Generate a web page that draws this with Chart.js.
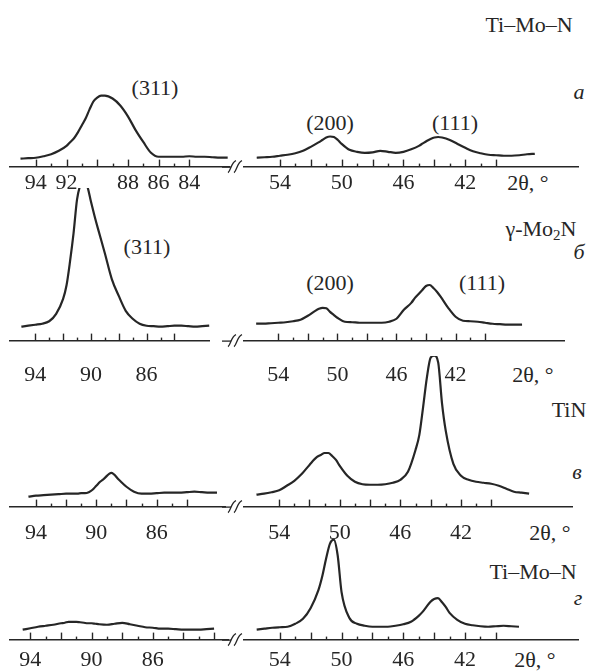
<!DOCTYPE html>
<html>
<head>
<meta charset="utf-8">
<script src="https://cdn.jsdelivr.net/npm/chart.js@4/dist/chart.umd.min.js"></script>
<style>
  html, body { margin: 0; padding: 0; background: #fff; }
  #fig { position: relative; width: 595px; height: 672px; overflow: hidden; background: #fff; }
  .t { position: absolute; transform: translate(-50%, -50%); white-space: nowrap;
       font-family: "Liberation Serif", "DejaVu Serif", serif; font-size: 22px; color: #262626; line-height: 1; }
  .i { font-style: italic; }
  sub { font-size: 15px; vertical-align: -4px; }
</style>
</head>
<body>
<div id="fig">
  <div class="t" style="left:529px; top:25px;">Ti–Mo–N</div>

  <div class="t" style="left:155px; top:88px;">(311)</div>
  <div class="t i" style="left:579px; top:92px;">а</div>
  <div class="t" style="left:330px; top:123px;">(200)</div>
  <div class="t" style="left:455px; top:123px;">(111)</div>
  <div class="t" style="left:528px; top:183px;">2θ, °</div>

  <div class="t" style="left:541px; top:230px;">γ-Mo<sub>2</sub>N</div>
  <div class="t i" style="left:579px; top:252px;">б</div>
  <div class="t" style="left:147px; top:247px;">(311)</div>
  <div class="t" style="left:330px; top:283px;">(200)</div>
  <div class="t" style="left:482px; top:283px;">(111)</div>
  <div class="t" style="left:533px; top:375px;">2θ, °</div>

  <div class="t" style="left:569px; top:410px;">TiN</div>
  <div class="t i" style="left:577px; top:472px;">в</div>
  <div class="t" style="left:550px; top:533px;">2θ, °</div>

  <div class="t" style="left:533px; top:572px;">Ti–Mo–N</div>
  <div class="t i" style="left:578px; top:598px;">г</div>
  <div class="t" style="left:535px; top:660px;">2θ, °</div>
</div>

<script>
// 2theta, degrees (left part of the broken axis and right part)
var leftAngles = [95, 94.5, 94, 93.5, 93, 92.5, 92, 91.75, 91.5, 91.25, 91, 90.75, 90.5, 90.25, 90,
  89.75, 89.5, 89, 88.5, 88, 87.5, 87, 86.5, 86, 85.5, 85, 84.5, 84, 83.5, 83, 82.5, 82, 81.5];
var rightAngles = [55.5, 55, 54.5, 54, 53.5, 53, 52.5, 52, 51.5, 51.25, 51, 50.75, 50.5, 50.25, 50,
  49.5, 49, 48.5, 48, 47.5, 47, 46.5, 46, 45.5, 45, 44.75, 44.5, 44.25, 44, 43.75, 43.5, 43.25, 43,
  42.5, 42, 41.5, 41, 40.5, 40, 39.5, 39, 38.5, 38, 37.5];

// intensities (arb. units)
// а  Ti-Mo-N
var aLeft = [8, 8.5, 9, 10.5, 12.5, 16, 21, 25, 29, 35, 42, 49, 58, 66, 70,
  72, 72, 69, 62, 51, 37, 25, 14, 10, 10, 10, 10, 10.5, 10, 10, 9.5, 9, 9];
var aRight = [9, 9.5, 10, 11, 12, 13.5, 16, 20, 24.5, 27, 29.5, 30.5, 30, 27, 23,
  17, 15, 14, 14.5, 16, 15, 14, 15, 17.5, 21, 23.5, 26, 28, 29.5, 30, 29.5, 28.5, 27,
  23, 19, 15.5, 13.5, 12, 11.5, 11, 11, 11.5, 12.5, 13];
// б  gamma-Mo2N
var bLeft = [14, 15, 16, 17, 19.5, 27, 42, 56, 80, 108, 142, 157, 161, 155, 140,
  126, 113, 88, 62, 45, 30, 22, 17, 15, 14.5, 14, 14.5, 15, 15, 14.5, 14, 14.5, 15];
var bRight = [17, 17, 17.5, 18, 18.5, 19.5, 21, 25, 30, 32, 33, 32.5, 29, 26, 23,
  19, 18.5, 18, 18, 18, 18, 19, 22, 31, 38, 43, 47, 51, 55, 56, 53, 49, 44,
  33, 24, 20, 19.5, 19, 18, 17, 16.5, 16, 16, 16];
// в  TiN
var cLeft = [null, 10, 11, 11.5, 12, 12.5, 13, 13, 13, 13, 13.5, 13.5, 14.5, 17, 21,
  25, 28, 34, 27, 20, 15, 13, 13, 13.5, 14, 14, 14, 14.5, 15, 14.5, 14, 14, null];
var cRight = [12, 13, 14.5, 16.5, 21, 26, 33, 42, 50, 52, 54, 54, 51, 47, 41,
  31, 25, 22.5, 22, 22, 22.5, 24, 27, 35, 57, 72, 100, 130, 150, 152, 145, 104, 76,
  43, 31, 27, 25, 24, 23, 21, 18, 15, 14, 13];
// г  Ti-Mo-N
var dLeft = [null, 10, 11.5, 13, 14, 15, 16.5, 17, 18, 18, 18, 17.5, 17, 16.5, 16.5,
  16, 15.5, 15, 16, 17, 15.5, 14, 12.5, 12, 11, 11, 10.5, 10, 10, 10, 10.5, 11, null];
var dRight = [10, 11, 12, 12.5, 13, 16, 21, 32, 50, 64, 82, 97, 101, 85, 48,
  22, 16, 14, 13, 13, 13, 14, 15.5, 18, 24, 28, 33, 38, 41, 42, 38, 33, 27,
  20, 16, 14.5, 13.5, 13, 13.5, 14, 13.5, 13, null, null];

// tick labels
var leftTicksA = [94, 92, 88, 86, 84];
var leftTicks = [94, 90, 86];
var rightTicks = [54, 50, 46, 42];

var ink = '#262626';
var PX = 15.5;   // pixels per degree

var panels = [
  { axisY: 167, H: 80, pad: 3, x94: 36, left: aLeft, right: aRight, lt: leftTicksA, leftTo: 84 },
  { axisY: 341, H: 170, pad: 21, x94: 38, left: bLeft, right: bRight, lt: leftTicks, leftTo: 84 },
  { axisY: 507, H: 160, pad: 13, x94: 37, left: cLeft, right: cRight, lt: leftTicks, leftTo: 84 },
  { axisY: 640, H: 110, pad: 7, x94: 31, left: dLeft, right: dRight, lt: leftTicks, leftTo: 82 }
];

// small upward tick marks on the axis + the break sign
var tickMarks = {
  id: 'tickMarks',
  afterDraw: function (chart, args, o) {
    var sc = chart.scales.x, ctx = chart.ctx, y = chart.chartArea.bottom;
    ctx.save();
    ctx.strokeStyle = ink;
    ctx.lineWidth = 1.4;
    for (var v = o.from; v >= o.to; v--) {
      var x = Math.round(sc.getPixelForValue(v)) + 0.5;
      var len = v % 2 === 0 ? 7 : 3;
      ctx.beginPath();
      ctx.moveTo(x, y);
      ctx.lineTo(x, y - len);
      ctx.stroke();
    }
    if (o.brk) {
      ctx.lineWidth = 1.3;
      [chart.chartArea.left - 12, chart.chartArea.left - 6].forEach(function (bx) {
        ctx.beginPath();
        ctx.moveTo(bx - 4, y + 6);
        ctx.bezierCurveTo(bx - 1, y + 4, bx - 1, y - 4, bx + 4, y - 6);
        ctx.stroke();
      });
      ctx.beginPath();
      ctx.moveTo(chart.chartArea.left - 22, y + 0.5);
      ctx.lineTo(chart.chartArea.left - 13, y + 0.5);
      ctx.stroke();
    }
    ctx.restore();
  }
};

function makeChart(box, s) {
  var cv = document.createElement('canvas');
  cv.width = s.width;
  cv.height = s.H + s.pad + 30;
  cv.style.position = 'absolute';
  cv.style.left = s.left + 'px';
  cv.style.top = (s.axisY - s.H) + 'px';
  box.appendChild(cv);

  var pts = s.angles.map(function (a, k) { return { x: a, y: s.values[k] }; });

  var chart = new Chart(cv.getContext('2d'), {
    type: 'line',
    data: {
      datasets: [{
        data: pts,
        borderColor: ink,
        borderWidth: 2.2,
        pointRadius: 0,
        fill: false,
        cubicInterpolationMode: 'monotone',
        clip: false
      }]
    },
    options: {
      responsive: false,
      animation: false,
      events: [],
      layout: { padding: { left: s.padLeft, right: 0, top: 0, bottom: 0 } },
      plugins: {
        legend: { display: false },
        tooltip: { enabled: false },
        tickMarks: { from: s.from, to: s.to, brk: s.brk }
      },
      scales: {
        x: {
          type: 'linear',
          reverse: true,
          min: s.min,
          max: s.max,
          border: { display: true, color: ink, width: 1.6 },
          grid: { display: true, drawOnChartArea: false, drawTicks: false },
          ticks: {
            stepSize: 1,
            autoSkip: false,
            maxRotation: 0,
            includeBounds: false,
            padding: s.pad,
            color: ink,
            font: { family: 'Liberation Serif', size: 22 },
            callback: function (v) { return s.labels.indexOf(v) >= 0 ? String(v) : ''; }
          }
        },
        y: { display: false, min: 0, max: s.H }
      }
    },
    plugins: [tickMarks]
  });

  // keep 1 unit = 1 px and put the axis line where it belongs
  chart.options.scales.y.max = chart.chartArea.bottom - chart.chartArea.top;
  chart.update();
  cv.style.top = (s.axisY - chart.chartArea.bottom) + 'px';
  cv.style.left = (s.areaLeft - chart.chartArea.left) + 'px';
}

window.onload = function () {
  var box = document.getElementById('fig');
  panels.forEach(function (p) {
    makeChart(box, {
      angles: leftAngles, values: p.left, labels: p.lt,
      left: 10, areaLeft: 10, width: 222, padLeft: 0,
      min: 94 - (232 - p.x94) / PX, max: 94 + (p.x94 - 10) / PX,
      from: 94, to: p.leftTo, brk: false,
      axisY: p.axisY, H: p.H, pad: p.pad
    });
    makeChart(box, {
      angles: rightAngles, values: p.right, labels: rightTicks,
      left: 222, areaLeft: 244, width: 358, padLeft: 22,
      min: 54 - (580 - 280) / PX, max: 54 + (280 - 244) / PX,
      from: 54, to: 40, brk: true,
      axisY: p.axisY, H: p.H, pad: p.pad
    });
  });
};
</script>
</body>
</html>
